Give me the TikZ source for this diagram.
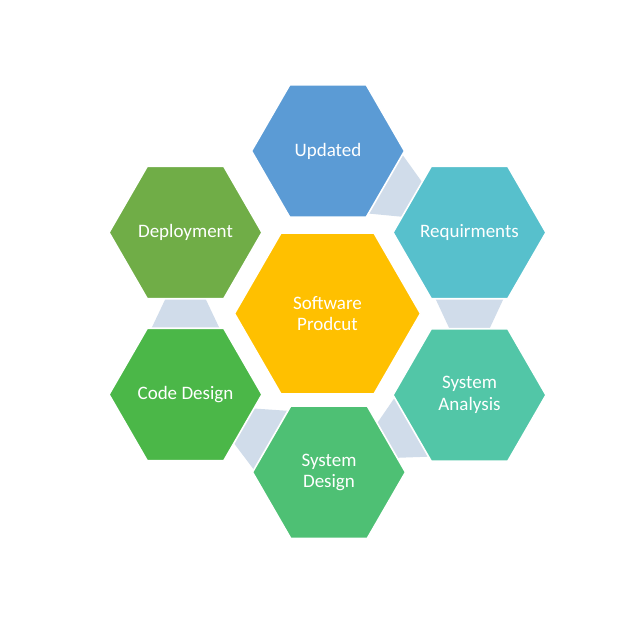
\documentclass[tikz,border=0pt]{standalone}
\usepackage{fontspec}
\setmainfont{Carlito}
\usetikzlibrary{shapes.geometric,calc,backgrounds}
\definecolor{cUpd}{HTML}{5B9BD5}
\definecolor{cReq}{HTML}{57C0CC}
\definecolor{cSA}{HTML}{52C6A7}
\definecolor{cSD}{HTML}{4EC074}
\definecolor{cCD}{HTML}{4BB748}
\definecolor{cDep}{HTML}{70AD47}
\definecolor{cCen}{HTML}{FFC000}
\definecolor{cLink}{HTML}{D0DCEA}
\newcommand\linkshape[2]{%
  \fill[linkfill] ($(#1)!55.85pt!27.17:(#2)$) -- ($(#1)!55.85pt!-27.17:(#2)$)
    -- ($(#2)!51.9pt!16.8:(#1)$) -- ($(#2)!51.9pt!-16.8:(#1)$) -- cycle;}
\begin{document}
\begin{tikzpicture}[x=0.75pt,y=-0.75pt,
  hexbox/.style={regular polygon,regular polygon sides=6,minimum size=114.75pt,
    inner sep=0pt,outer sep=0pt,draw=white,line width=1.2pt},
  bighex/.style={hexbox,minimum size=139.5pt},
  lbl/.style={text=white,font=\fontsize{14.25}{16}\selectfont,align=center,inner sep=0pt},
  linkfill/.style={fill=cLink}]
\useasboundingbox (0,0) rectangle (640,640);
\node[bighex,fill=cCen] (cen) at (327.5,313.5) {};
\node[hexbox,fill=cUpd] (upd) at (328,151) {};
\node[hexbox,fill=cReq] (req) at (469.5,232.5) {};
\node[hexbox,fill=cSA] (sa) at (469.5,395) {};
\node[hexbox,fill=cSD] (sd) at (329,472.2) {};
\node[hexbox,fill=cCD] (cd) at (185.5,394.5) {};
\node[hexbox,fill=cDep] (dep) at (185.5,232.5) {};
\node[lbl] (tcen) at (cen) {Software\\Prodcut};
\node[lbl] (tupd) at (upd) {Updated};
\node[lbl] (treq) at (req) {Requirments};
\node[lbl] (tsa) at (sa) {System\\Analysis};
\node[lbl] (tsd) at (sd) {System\\Design};
\node[lbl] (tcd) at (cd) {Code Design};
\node[lbl] (tdep) at (dep) {Deployment};
\begin{scope}[on background layer]
  \fill[white] (0,0) rectangle (640,640);
  \linkshape{upd}{req}
  \linkshape{req}{sa}
  \linkshape{sa}{sd}
  \linkshape{sd}{cd}
  \linkshape{cd}{dep}
\end{scope}
\end{tikzpicture}
\end{document}
